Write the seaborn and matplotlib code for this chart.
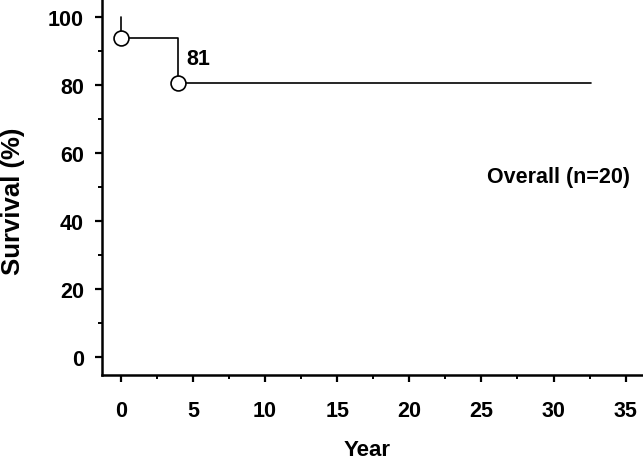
import pandas as pd
import matplotlib.pyplot as plt
from matplotlib.ticker import MultipleLocator
import seaborn as sns

sns.set_style('ticks', {'text.color': 'black', 'axes.labelcolor': 'black',
                        'xtick.color': 'black', 'ytick.color': 'black',
                        'axes.edgecolor': 'black'})
plt.rcParams['font.family'] = ['Liberation Sans', 'DejaVu Sans']
plt.rcParams['font.weight'] = 'bold'

# Kaplan-Meier step curve (years, survival %)
years = [0, 0, 4, 4, 32.6]
survival = [100, 93.8, 93.8, 80.5, 80.5]
event_years = [0, 4]
event_surv = [93.8, 80.5]
final_label = '81'
group_label = 'Overall (n=20)'

curve = pd.DataFrame({'Year': years, 'Survival': survival})
events = pd.DataFrame({'Year': event_years, 'Survival': event_surv})

fig = plt.figure(figsize=(6.43, 4.60), dpi=100)
ax = fig.add_axes([0.1586, 0.1826, 0.8414, 0.8174])

sns.lineplot(data=curve, x='Year', y='Survival', sort=False, estimator=None,
             color='black', linewidth=1.2, ax=ax)
sns.scatterplot(data=events, x='Year', y='Survival', s=115, color='white',
                edgecolor='black', linewidth=1.2, zorder=5, ax=ax)

ax.text(4.55, 87.8, final_label, fontsize=15.5, fontweight='bold', va='center', ha='left')
ax.text(35.3, 53, group_label, fontsize=15.5, fontweight='bold', va='center', ha='right')

ax.set_xlim(-1.3, 36.2)
ax.set_ylim(-5.3, 105.3)
ax.xaxis.set_major_locator(MultipleLocator(5))
ax.xaxis.set_minor_locator(MultipleLocator(2.5))
ax.yaxis.set_major_locator(MultipleLocator(20))
ax.yaxis.set_minor_locator(MultipleLocator(10))
ax.set_yticks([0, 20, 40, 60, 80, 100])

ax.tick_params(which='major', length=5, width=1.6, labelsize=15.5)
ax.tick_params(which='minor', length=3, width=1.4)
ax.tick_params(axis='x', which='major', pad=13)
ax.tick_params(axis='y', which='major', pad=8)
for lab in ax.get_xticklabels() + ax.get_yticklabels():
    lab.set_fontweight('bold')

ax.set_xlabel('Year', fontsize=16, fontweight='bold')
ax.set_ylabel('Survival (%)', fontsize=18.5, fontweight='bold')
ax.xaxis.set_label_coords(0.49, -0.197)
ax.xaxis.label.set_va('center')
ax.yaxis.set_label_coords(-0.1645, 0.465)
ax.yaxis.label.set_va('center')

sns.despine(ax=ax)
for s in ['left', 'bottom']:
    ax.spines[s].set_linewidth(1.8)

fig.savefig('out.png', dpi=100)
